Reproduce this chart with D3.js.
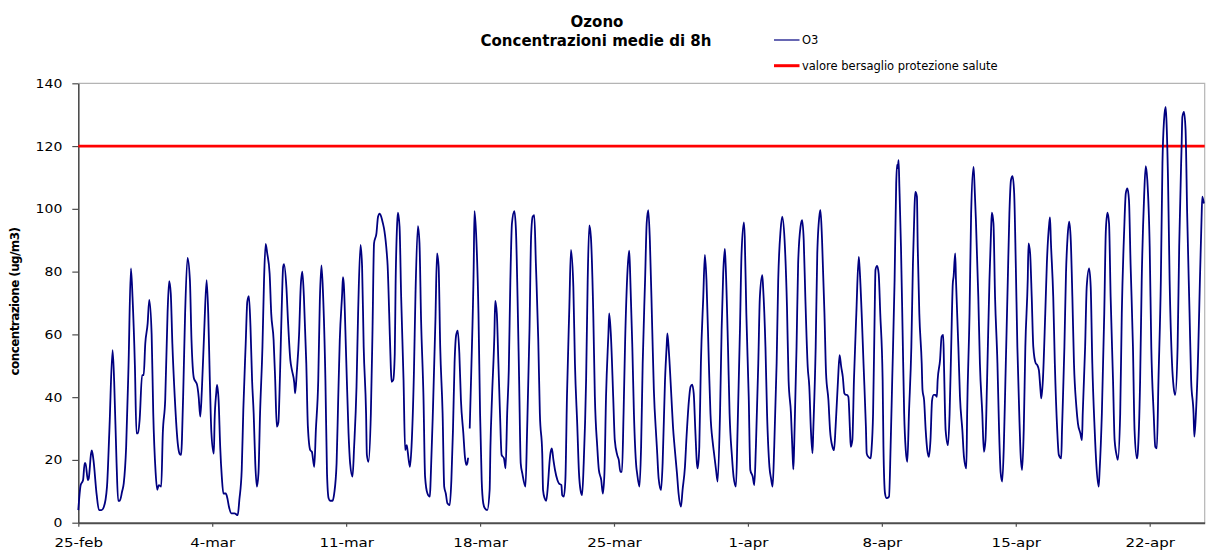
<!DOCTYPE html>
<html>
<head>
<meta charset="utf-8">
<script src="https://cdn.jsdelivr.net/npm/d3@7"></script>
<style>
  body { margin: 0; background: #fff; }
  svg { display: block; }
  text { font-family: "DejaVu Sans", Verdana, sans-serif; fill: #000; }
</style>
</head>
<body>
<svg id="chart" width="1207" height="557"></svg>
<script>
// Ozone, 8-hour running mean (ug/m3), hours counted from 25 February 00:00.
// A null value marks missing readings.
const o3Series = [
  [0,4],[3,12],[6,13.6],[8,19],[9,19],[12,13.6],[13,14],[16,22],[17,23],[19,20],[23,9],[26,4],[29,4],[32,5],
  [36,11.5],[39,29.5],[43,55],[45,45],[48,19],[50,7],[52,7],[55,10],[57,12.5],[60,24],[63,50],[66,81],[68,72],
  [71,50],[73,28.5],[75,28.5],[77,33],[80,47],[82,47],[84,57],[87,63.5],[89,71],[92,60],[94,35],[97,16],
  [99,10.5],[101,12],[104,11.5],[106,28.5],[109,39],[112,67],[114,77],[116,73],[118,57],[121,40],
  [125,24.7],[127,22],[129,21.6],[130,26.3],[132,45.4],[134,66.7],[137,84.4],[140,77.3],[142,58.2],[145,46],
  [147,45],[149,43.9],[151,40.1],[153,33.8],[155,42.3],[158,61.4],[161,77.3],[163,66.7],[165,45.4],[167,28.5],
  [170,22],[171,32.7],[173,41.2],[174,43.9],[176,39],[178,24.2],[180,14.7],[182,9.3],[185,9.3],[187,7.8],
  [189,5.1],[192,3],[196,3],[200,2.4],[202,7.2],[205,16.8],[207,35.9],[210,57.1],[212,70.4],[214,72.2],
  [216,62.4],[218,45.4],[220,34.8],[222,18.9],[224,11.5],[226,15.7],[228,34.8],[231,56],[233,77.3],[235,88.8],
  [237,85.8],[240,79.4],[242,66.7],[245,58.2],[247,45.4],[249,30.6],
  [251,32],[253,47],[255,66.7],[257,81.6],[258,82.4],[261,75.2],[263,64.6],[266,51.8],[268,48.6],[271,44.4],
  [272,41.2],[274,47.6],[277,60.3],[279,75.2],[281,80],[283,72],[286,50.8],[288,30.6],[291,23.1],[293,22.6],
  [296,17.8],[298,29.5],[301,45.4],[303,70.9],[305,82],[307,73],[310,45.4],[312,15.7],[314,7.8],[316,7],
  [319,7],[321,9.3],[324,18.9],[326,39],[328,58.2],[331,73],[332,78.2],[333,76.2],[336,52.9],[339,28.5],
  [341,18.9],[344,14.7],[346,24.2],[349,43.3],[351,66.7],[354,88.5],[356,81.6],[358,56],[361,34.8],[362,21.6],
  [364,19.4],[367,34.8],[369,60.3],[371,89],[374,92.2],[376,97.5],[378,98.5],
  [380,97.5],[382,95.5],[384,93],[387,85.8],[388,82.1],[390,66.7],[392,49.7],[393,44.9],[395,45.4],[397,53.9],
  [398,75.2],[400,95.4],[401,98.8],[403,94.3],[405,72],[408,45.4],[410,23.1],[412,24.7],[413,23.1],[416,17.8],
  [418,24.2],[421,47.6],[423,73],[426,94.5],[428,89],[430,64.6],[433,40.1],[435,14.7],[438,9.3],[441,8.3],
  [442,13.6],[445,37],[448,64.6],[450,85.8],[452,81.6],[454,56],[457,34.8],[459,11.5],[461,9.3],[463,6.2],
  [466,5.6],[468,13.6],[470,29.5],[472,50.8],[474,59.8],[476,61.2],[478,53.9],[480,39],[483,28.5],[485,21],
  [487,18.4],[488,18.9],[489,20.7],[490,null],[491,30],[493,48.6],[496,81.6],[497,99.3],[499,92.2],[502,66.7],
  [504,34.8],[506,13.6],[508,6.2],[510,4.6],[513,4],
  [516,10.4],[517,24.2],[519,40.1],[522,60.3],[523,70.7],[525,66.7],[527,50.8],[529,34.8],[531,21.6],[534,20.5],
  [536,17.3],[538,34.8],[540,48.6],[542,77.3],[544,95.4],[547,99.3],[549,93.2],[551,72],[553,45.4],[555,18.9],
  [557,15.7],[561,11.5],[563,29.5],[566,61.4],[568,91.1],[570,97.5],[572,98],[574,82.6],[577,58.2],[579,34.8],
  [582,22],[583,10.4],[585,7.8],[587,7],[589,11.5],[591,18.9],[592,21.6],[594,23.7],[596,20],[598,16.8],
  [601,13.6],[603,12.5],[606,12],[607,8.8],[609,8.3],[611,13.6],[613,40.1],[616,68.8],[618,86.9],[621,75.2],
  [623,50.8],[626,30.6],[628,16.2],[630,10.4],[632,8.8],[634,18.9],[637,45.4],[639,77.3],
  [641,94.7],[643,91.1],[646,66.7],[648,40.1],[651,24.2],[653,16.8],[656,13.6],[658,9.3],[660,15.7],[662,40.1],
  [665,60.3],[666,66.7],[668,60.3],[671,40.1],[673,26.3],[676,21.6],[678,20],[680,16.2],[682,16.2],[684,34.8],
  [686,58.2],[689,80.5],[691,86.7],[692,81.6],[695,56],[697,34.8],[700,17.8],[701,15.7],[704,11.5],[706,24.2],
  [708,50.8],[711,77.3],[713,95.4],[715,99.6],[717,90],[720,61.4],[722,42.3],[725,27.4],[726,23.1],[728,14.1],
  [731,10.4],[733,18.9],[736,45.4],[738,56],[739,60.3],[741,53.9],[744,40.1],[746,30.6],[748,24.2],[751,15.7],
  [753,9.3],[756,5.1],[758,10.4],[761,17.8],[763,27.4],[766,39],
  [768,43.3],[770,44],[772,41.2],[774,29.5],[776,18.9],[777,17.3],[779,24.2],[781,50.8],[784,72],[786,85.3],
  [788,77.3],[791,50.8],[793,34.8],[796,25.3],[797,23.1],[800,16.8],[802,13.1],[805,34.8],[807,61.4],[809,79.4],
  [811,87.2],[812,82.6],[815,56],[817,34.8],[820,21],[822,14.7],[825,11.5],[827,29.5],[830,61.4],[832,85.8],
  [835,95.7],[836,91.1],[838,66.7],[841,40.1],[843,16.8],[846,14.7],[848,12],[850,24.2],[853,50.8],[855,72],
  [858,78.9],[859,75.2],[862,56],[864,34.8],[867,17.8],[869,14.1],[871,11.5],[873,24.2],[876,50.8],[878,77.3],
  [881,93.2],[883,97.5],[886,90],[889,68.8],[891,45.4],[894,34.8],[896,22],
  [897,17],[898,24.2],[901,56],[903,82.6],[906,94.3],[908,96.4],[910,90],[912,72],[915,49.7],[917,43.3],
  [919,29.5],[921,22.1],[922,29.5],[925,56],[927,85.8],[930,98.5],[931,99.6],[933,90],[936,66.7],[938,47.6],
  [941,39],[943,29.5],[946,24.2],[948,23.1],[950,30.6],[953,45.4],[955,53.4],[957,49.7],[959,46.5],[961,41.2],
  [963,40.7],[964,40.7],[966,40.1],[968,29.5],[969,24.2],[971,26.3],[973,45.4],[976,66.7],[979,84.7],[980,81.6],
  [983,64.6],[985,50.8],[988,30.6],[989,22.1],[991,21],[994,20.5],[995,23.1],[997,34.8],[999,66.7],[1000,80.5],
  [1002,81.8],[1004,79.4],[1006,66.7],[1009,45.4],[1010,24.2],[1012,9.3],[1014,7.8],[1017,8.3],[1019,24.2],
  [1021,45.4],[1024,77.3],[1026,108],
  [1027,114],[1028,113],[1029,115.5],[1030,107],[1032,87.9],[1034,61.4],[1036,34.8],[1038,23.1],[1040,19.4],
  [1042,34.8],[1045,56],[1047,82.6],[1049,100.7],[1050,105.4],[1052,103.9],[1053,87.9],[1055,66.7],[1058,50.8],
  [1059,42.3],[1061,39],[1063,29.5],[1065,23.1],[1067,21],[1069,26.3],[1071,39],[1073,40.7],[1075,40.7],
  [1077,40.1],[1078,45.4],[1081,51.8],[1083,59.3],[1085,59.8],[1086,49.7],[1088,29.5],[1091,24.7],[1093,34.8],
  [1095,56],[1097,76.2],[1098,78.4],[1100,85.8],[1101,77.3],[1104,56],[1106,40.1],[1109,29.5],[1111,21],
  [1114,17.3],[1115,34.8],[1118,66.7],[1120,98.5],[1123,113.4],[1124,109.2],[1126,96.4],[1129,72],[1131,50.8],
  [1134,34.8],[1136,22.6],[1138,26.3],[1140,45.4],[1143,77.3],[1145,93.2],[1146,98.8],[1148,95.4],[1150,72],
  [1153,50.8],[1155,30],[1157,16],[1159,13.1],
  [1161,24.2],[1163,45.4],[1166,77.3],[1168,98.5],[1170,109.2],[1172,110.4],[1174,104.9],[1176,82.6],[1178,56],
  [1181,29.5],[1182,22.1],[1184,16.8],[1186,29.5],[1188,56],[1191,77.3],[1192,89],[1194,85.8],[1196,72],
  [1198,56],[1201,50.8],[1203,50.2],[1205,48.6],[1207,42.3],[1208,39.6],[1210,45.4],[1213,66.7],[1215,82.6],
  [1218,95.4],[1219,97.3],[1220,90],[1223,72],[1225,50.8],[1228,29.5],[1230,21.6],[1233,20.5],[1234,29.5],
  [1237,56],[1239,79.4],[1241,91.1],[1243,95.9],[1245,90],[1247,72],[1249,50.8],[1252,37],[1254,31.6],
  [1257,28.5],[1259,26.3],[1260,34.8],[1263,56],[1265,75.2],[1268,81],[1270,75.2],[1272,50.8],[1275,29.5],
  [1277,18.9],[1280,11.5],[1281,15.7],
  [1284,34.8],[1287,66.7],[1289,93.2],[1291,98.8],[1293,95.4],[1295,72],[1298,45.4],[1300,26.3],[1303,21],
  [1304,20],[1307,34.8],[1309,66.7],[1312,93.2],[1314,104.9],[1316,106.5],[1318,102.8],[1320,82.6],[1323,56],
  [1325,29.5],[1328,20.5],[1329,22.1],[1332,45.4],[1334,77.3],[1337,103.9],[1339,113.6],[1341,109.2],[1344,87.9],
  [1346,56],[1349,34.8],[1351,24.2],[1353,23.7],[1355,45.4],[1358,77.3],[1360,114.5],[1362,128.3],[1364,132.5],
  [1365,128.3],[1367,109.2],[1369,77.3],[1372,50.8],[1374,43.3],[1376,40.7],[1379,56],[1381,87.9],[1384,119.8],
  [1385,129.3],[1387,130.9],[1389,125.1],[1391,98.5],[1394,66.7],[1396,45.4],[1399,34.8],[1400,27.4],[1402,34.8],
  [1405,56],[1407,77.3],[1409,96.4],[1410,103.9],[1412,101.7]
];

// Target value for health protection
const targetValue = 120;

// Axis ticks
const yTicks = [0, 20, 40, 60, 80, 100, 120, 140];
const xTickLabels = ["25-feb", "4-mar", "11-mar", "18-mar", "25-mar", "1-apr", "8-apr", "15-apr", "22-apr"];

// Period shown on the time axis (hours after the first day)
const periodHours = 1413;

const titleLines = ["Ozono", "Concentrazioni medie di 8h"];
const yTitle = "concentrazione (ug/m3)";
const legendItems = [
  { label: "O3", color: "#000080", width: 1.2 },
  { label: "valore bersaglio protezione salute", color: "#ff0000", width: 3 }
];

// ---------------------------------------------------------------------------
const HOUR = 3600 * 1000;
const t0 = Date.UTC(2009, 1, 25);
const plot = { left: 78.3, right: 1204.7, top: 83.3, bottom: 522.7 };

const svg = d3.select("#chart");

const x = d3.scaleUtc()
  .domain([new Date(t0), new Date(t0 + periodHours * HOUR)])
  .range([plot.left, plot.right]);

const y = d3.scaleLinear()
  .domain([0, 140])
  .range([plot.bottom, plot.top]);

// stretch text horizontally by a factor, keeping its anchor
function stretch(sel, k) {
  sel.each(function () {
    const w = this.getComputedTextLength();
    this.setAttribute("textLength", (w * k).toFixed(2));
    this.setAttribute("lengthAdjust", "spacingAndGlyphs");
  });
}

// plot frame (light top/right edges)
svg.append("path")
  .attr("d", `M${plot.left},${plot.top}H${plot.right}V${plot.bottom}`)
  .attr("fill", "none")
  .attr("stroke", "#b4b4b4")
  .attr("stroke-width", 1.2);

// y axis
const yAxis = svg.append("g")
  .attr("transform", `translate(${plot.left},0)`)
  .call(d3.axisLeft(y).tickValues(yTicks).tickSize(6).tickSizeOuter(0).tickPadding(10));
yAxis.select(".domain").attr("stroke", "#4d4d4d").attr("stroke-width", 1.6);
yAxis.selectAll(".tick line").attr("stroke", "#4d4d4d").attr("stroke-width", 1.2);
yAxis.selectAll(".tick text")
  .style("font-family", '"DejaVu Sans", Verdana, sans-serif')
  .attr("font-size", 12.5)
  .attr("fill", "#000")
  .call(stretch, 1.12);

// x axis: one tick per week
const weekTicks = xTickLabels.map((_, i) => new Date(t0 + i * 7 * 24 * HOUR));
const xAxis = svg.append("g")
  .attr("transform", `translate(0,${plot.bottom})`)
  .call(d3.axisBottom(x)
    .tickValues(weekTicks)
    .tickFormat((d, i) => xTickLabels[i])
    .tickSize(4).tickSizeOuter(0).tickPadding(11));
xAxis.select(".domain").attr("stroke", "#4d4d4d").attr("stroke-width", 2);
xAxis.selectAll(".tick line").attr("stroke", "#4d4d4d").attr("stroke-width", 1.2);
xAxis.selectAll(".tick text")
  .style("font-family", '"DejaVu Sans", Verdana, sans-serif')
  .attr("font-size", 12.5)
  .attr("fill", "#000")
  .call(stretch, 1.2);

// target line
svg.append("line")
  .attr("x1", plot.left).attr("x2", plot.right)
  .attr("y1", y(targetValue)).attr("y2", y(targetValue))
  .attr("stroke", "#ff0000")
  .attr("stroke-width", 2.8);

// ozone series
const points = o3Series.map(([h, v]) => ({ t: new Date(t0 + h * HOUR), v }));
const line = d3.line()
  .defined(d => d.v != null)
  .x(d => x(d.t))
  .y(d => y(d.v))
  .curve(d3.curveMonotoneX);

svg.append("path")
  .datum(points)
  .attr("fill", "none")
  .attr("stroke", "#000080")
  .attr("stroke-width", 1.8)
  .attr("stroke-linejoin", "round")
  .attr("d", line);

// title
const title = svg.append("text")
  .attr("text-anchor", "middle")
  .attr("font-weight", "bold")
  .attr("font-size", 15);
title.append("tspan").attr("x", 597).attr("y", 27).text(titleLines[0]);
title.append("tspan").attr("x", 596).attr("y", 46).text(titleLines[1]);

// y axis title
svg.append("text")
  .attr("transform", "translate(19,301.5) rotate(-90)")
  .attr("text-anchor", "middle")
  .attr("font-weight", "bold")
  .attr("font-size", 12)
  .attr("letter-spacing", -0.6)
  .text(yTitle);

// legend
const legend = svg.append("g");
legendItems.forEach((item, i) => {
  const ly = 40 + i * 25.7;
  legend.append("line")
    .attr("x1", 774).attr("x2", 799.5)
    .attr("y1", ly).attr("y2", ly)
    .attr("stroke", item.color)
    .attr("stroke-width", item.width);
  legend.append("text")
    .attr("x", 802)
    .attr("y", ly + 4.3)
    .attr("font-size", 11.5)
    .text(item.label);
});
</script>
</body>
</html>
